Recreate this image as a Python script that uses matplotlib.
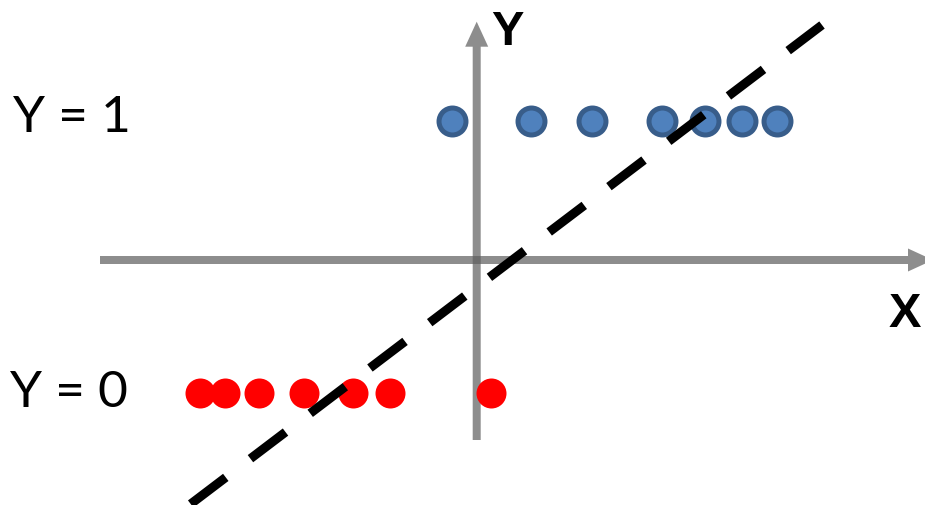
import numpy as np
import matplotlib
matplotlib.use("Agg")
import matplotlib.pyplot as plt

plt.rcParams['lines.scale_dashes'] = False

# points on the two levels (x positions in plot units)
blue_x = [-2.48, 5.45, 11.58, 18.52, 22.85, 26.52, 30.02]
blue_y = 13.9
red_x = [-27.65, -25.15, -21.73, -17.22, -12.38, -8.65, 1.45]
red_y = -13.3

# dashed separating line
line_x = [-28.58, 34.55]
line_y = [-24.4, 23.5]

labels = ["Y = 1", "Y = 0"]
label_y = [12.83, -14.67]

fig = plt.figure(figsize=(9.25, 5.05), dpi=100)
ax = fig.add_axes([0, 0, 1, 1])
ax.set_xlim(-47.65, 44.85)
ax.set_ylim(-24.5, 26.0)
ax.axis('off')

# axes arrows
axis_col = '#5d5d5d'
ax.arrow(-37.65, 0, 83.3, 0, width=0.8, head_width=2.3, head_length=2.5,
         length_includes_head=True, color=axis_col, alpha=0.7, lw=0, zorder=1)
ax.arrow(0.02, -18.0, 0, 41.83, width=0.8, head_width=2.3, head_length=2.5,
         length_includes_head=True, color=axis_col, alpha=0.7, lw=0, zorder=1)

ax.plot(blue_x, [blue_y] * len(blue_x), 'o', ms=19.4, mfc='#4f81bd',
        mec='#385d8a', mew=3.6, zorder=2)
ax.plot(red_x, [red_y] * len(red_x), 'o', ms=21.6, mfc='#ff0000',
        mec='none', zorder=2)

ax.plot(line_x, line_y, color='black', lw=6.5, solid_capstyle='butt',
        dash_capstyle='butt', linestyle=(0, (31.7, 22.3)), zorder=3)

fnt = ['Lato', 'DejaVu Sans']
ax.text(-46.35, label_y[0], labels[0], fontsize=37, family=fnt, va='baseline')
ax.text(-46.65, label_y[1], labels[1], fontsize=37, family=fnt, va='baseline')
bfnt = ['Liberation Sans', 'DejaVu Sans']
ax.text(1.5, 21.5, "Y", fontsize=35, fontweight='bold', family=bfnt, va='baseline')
ax.text(41.2, -6.67, "X", fontsize=35, fontweight='bold', family=bfnt, va='baseline')

fig.savefig("out.png", dpi=100)
